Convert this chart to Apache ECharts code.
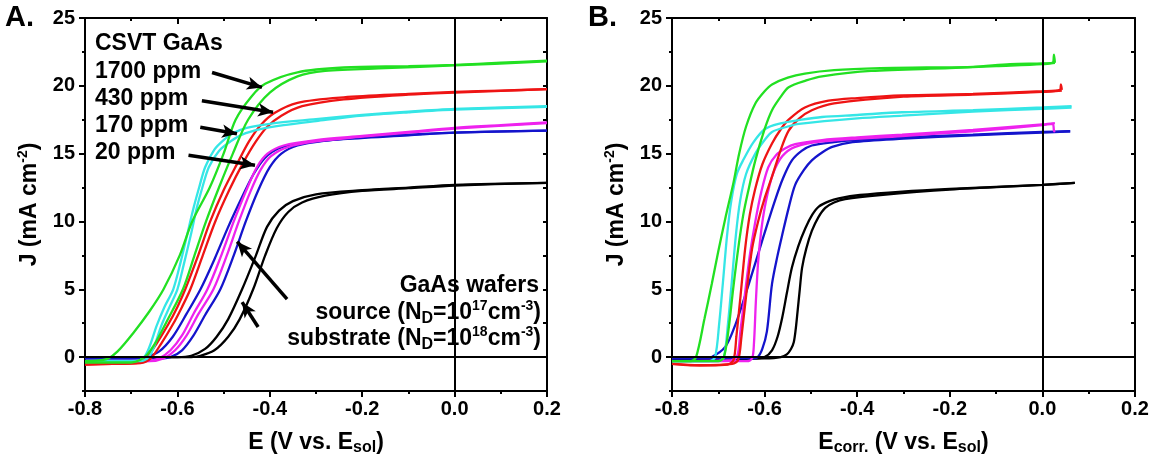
<!DOCTYPE html>
<html><head><meta charset="utf-8">
<script src="https://cdn.jsdelivr.net/npm/echarts@6/dist/echarts.min.js"></script>
<style>html,body{margin:0;padding:0;background:#fff}#c{width:1156px;height:461px}</style>
</head><body><div id="c"></div>
<script>
// ---- Panel A (left): J vs E ----
const LG1 = [[-0.8,-0.3],[-0.77,-0.25],[-0.75,-0.1],[-0.73,0.4],[-0.695,1.8],[-0.66,3.4],[-0.63,5.0],[-0.595,7.5],[-0.568,10],[-0.53,12.5],[-0.50,15],[-0.474,17.5],[-0.44,19.2],[-0.41,20.15],[-0.34,21.0],[-0.24,21.35],[-0.1,21.45],[0,21.55],[0.1,21.7],[0.2,21.85]];
const LG2 = [[-0.8,-0.4],[-0.70,-0.4],[-0.68,-0.2],[-0.665,0.2],[-0.645,1.2],[-0.625,2.5],[-0.588,5],[-0.563,7.5],[-0.538,10],[-0.51,12.5],[-0.48,15],[-0.447,17.5],[-0.40,19.5],[-0.34,20.7],[-0.28,21.1],[-0.15,21.3],[0,21.5],[0.2,21.8]];
const LC1 = [[-0.8,-0.3],[-0.69,-0.3],[-0.672,0],[-0.66,0.8],[-0.645,2.3],[-0.628,3.7],[-0.609,5],[-0.593,7],[-0.579,9],[-0.565,11],[-0.553,12.5],[-0.54,14.0],[-0.52,15.3],[-0.50,16.0],[-0.48,16.5],[-0.45,16.9],[-0.40,17.2],[-0.30,17.55],[-0.2,17.85],[-0.1,18.1],[0,18.3],[0.2,18.5]];
const LC2 = [[-0.8,-0.3],[-0.68,-0.3],[-0.662,0],[-0.65,0.8],[-0.635,2.3],[-0.617,3.7],[-0.6,5],[-0.585,7],[-0.571,9],[-0.558,11],[-0.546,12.5],[-0.532,14.0],[-0.51,15.2],[-0.485,15.9],[-0.46,16.4],[-0.42,16.8],[-0.37,17.1],[-0.30,17.4],[-0.2,17.8],[-0.1,18.05],[0,18.25],[0.2,18.45]];
const LR1 = [[-0.8,-0.55],[-0.74,-0.5],[-0.69,-0.45],[-0.668,-0.1],[-0.645,1.0],[-0.62,2.4],[-0.6,3.7],[-0.583,5],[-0.555,7.5],[-0.529,10],[-0.5,12.3],[-0.47,14.3],[-0.445,15.9],[-0.42,17.1],[-0.39,18.0],[-0.34,18.75],[-0.24,19.15],[-0.1,19.4],[0,19.55],[0.1,19.65],[0.2,19.75]];
const LR2 = [[-0.8,-0.55],[-0.74,-0.5],[-0.68,-0.45],[-0.658,-0.1],[-0.635,1.0],[-0.61,2.4],[-0.59,3.7],[-0.572,5],[-0.545,7.5],[-0.518,10],[-0.488,12.3],[-0.458,14.3],[-0.43,15.9],[-0.405,17.0],[-0.375,17.8],[-0.33,18.5],[-0.24,19.0],[-0.1,19.35],[0,19.5],[0.2,19.75]];
const LM1 = [[-0.8,-0.3],[-0.67,-0.3],[-0.64,-0.1],[-0.615,0.5],[-0.59,1.6],[-0.565,3.2],[-0.535,5],[-0.505,7.5],[-0.478,10],[-0.452,12.2],[-0.428,14],[-0.405,15],[-0.37,15.6],[-0.30,16.0],[-0.2,16.3],[-0.1,16.6],[0,16.9],[0.1,17.1],[0.2,17.3]];
const LM2 = [[-0.8,-0.3],[-0.66,-0.3],[-0.63,-0.1],[-0.605,0.5],[-0.58,1.6],[-0.554,3.2],[-0.522,5],[-0.493,7.5],[-0.467,10],[-0.442,12.2],[-0.42,13.8],[-0.398,14.8],[-0.36,15.5],[-0.30,15.9],[-0.2,16.25],[-0.1,16.55],[0,16.85],[0.2,17.25]];
const LB1 = [[-0.8,-0.1],[-0.70,-0.1],[-0.67,0],[-0.64,0.4],[-0.61,1.5],[-0.58,3.2],[-0.55,5],[-0.52,7.2],[-0.49,9.6],[-0.46,11.8],[-0.435,13.5],[-0.41,14.7],[-0.38,15.4],[-0.33,15.8],[-0.25,16.05],[-0.1,16.35],[0,16.55],[0.2,16.7]];
const LB2 = [[-0.8,-0.1],[-0.64,-0.1],[-0.615,0],[-0.59,0.5],[-0.565,1.6],[-0.54,3.1],[-0.507,5],[-0.478,7.5],[-0.452,10],[-0.425,12.3],[-0.40,14.0],[-0.375,15.0],[-0.34,15.6],[-0.28,15.95],[-0.2,16.2],[-0.1,16.4],[0,16.55],[0.2,16.7]];
const LK1 = [[-0.8,0],[-0.6,0],[-0.57,0.1],[-0.54,0.6],[-0.515,1.5],[-0.49,2.8],[-0.46,5],[-0.43,7.5],[-0.406,9.6],[-0.38,10.8],[-0.35,11.5],[-0.30,12.0],[-0.2,12.3],[-0.1,12.5],[0,12.7],[0.2,12.85]];
const LK2 = [[-0.8,0],[-0.57,0],[-0.55,0.1],[-0.52,0.5],[-0.49,1.5],[-0.465,2.8],[-0.436,5],[-0.41,7.5],[-0.385,9.5],[-0.36,10.7],[-0.33,11.4],[-0.28,11.9],[-0.2,12.25],[-0.1,12.45],[0,12.65],[0.2,12.85]];

// ---- Panel B (right): J vs E_corr ----
const RG1 = [[-0.8,-0.3],[-0.76,-0.3],[-0.748,0],[-0.73,2.8],[-0.714,5.4],[-0.70,7.8],[-0.685,10.2],[-0.667,12.9],[-0.655,15.0],[-0.64,17.0],[-0.62,18.7],[-0.60,19.6],[-0.584,20.1],[-0.55,20.6],[-0.513,20.9],[-0.45,21.15],[-0.35,21.3],[-0.25,21.35],[-0.15,21.4],[-0.07,21.6],[0,21.65],[0.022,21.7],[0.025,22.3],[0.027,21.7]];
const RG2 = [[-0.8,-0.3],[-0.70,-0.3],[-0.688,0],[-0.678,2],[-0.668,5],[-0.657,8],[-0.646,10.5],[-0.635,12.3],[-0.62,14.5],[-0.60,16.8],[-0.584,18.2],[-0.565,19.2],[-0.548,19.9],[-0.51,20.4],[-0.476,20.7],[-0.37,21.1],[-0.2,21.3],[-0.1,21.45],[0,21.6],[0.027,21.7]];
const RC1 = [[-0.8,-0.3],[-0.72,-0.3],[-0.707,0],[-0.698,2.5],[-0.69,5.5],[-0.681,9],[-0.672,11.5],[-0.66,13.5],[-0.645,14.6],[-0.625,15.8],[-0.6,16.8],[-0.57,17.2],[-0.52,17.5],[-0.476,17.7],[-0.4,17.85],[-0.303,18.05],[-0.15,18.2],[0,18.4],[0.063,18.5]];
const RC2 = [[-0.8,-0.3],[-0.70,-0.3],[-0.688,0],[-0.679,2.5],[-0.671,5.5],[-0.662,9],[-0.653,11.5],[-0.64,13.5],[-0.62,15.0],[-0.6,16.0],[-0.584,16.6],[-0.55,17.0],[-0.526,17.2],[-0.4,17.6],[-0.303,17.8],[-0.15,18.1],[0,18.3],[0.063,18.4]];
const RR1 = [[-0.8,-0.5],[-0.76,-0.6],[-0.72,-0.6],[-0.68,-0.55],[-0.667,-0.2],[-0.661,1.5],[-0.652,4.5],[-0.642,8],[-0.632,10.5],[-0.621,12.3],[-0.605,14.2],[-0.584,15.75],[-0.565,16.8],[-0.548,17.5],[-0.513,18.4],[-0.462,18.9],[-0.4,19.1],[-0.303,19.3],[-0.15,19.4],[0,19.6],[0.038,19.7],[0.04,20.1],[0.042,19.7]];
const RR2 = [[-0.8,-0.5],[-0.74,-0.6],[-0.67,-0.5],[-0.657,-0.2],[-0.65,1.5],[-0.64,4.5],[-0.627,8],[-0.614,10],[-0.6,11.7],[-0.584,13.3],[-0.565,15.3],[-0.548,16.7],[-0.525,17.6],[-0.498,18.2],[-0.45,18.7],[-0.3,19.2],[-0.15,19.35],[0,19.55],[0.042,19.65]];
const RM1 = [[-0.8,-0.3],[-0.68,-0.25],[-0.66,0],[-0.652,2.0],[-0.643,4.5],[-0.632,7.5],[-0.62,10],[-0.607,12.2],[-0.592,14],[-0.575,14.9],[-0.555,15.4],[-0.534,15.7],[-0.476,16.0],[-0.4,16.2],[-0.303,16.4],[-0.15,16.75],[0,17.15],[0.027,17.25]];
const RM2 = [[-0.8,-0.3],[-0.638,-0.3],[-0.627,-0.1],[-0.623,1],[-0.619,4],[-0.614,7],[-0.607,9.4],[-0.597,11.5],[-0.582,13.5],[-0.562,14.8],[-0.534,15.5],[-0.476,15.9],[-0.303,16.3],[-0.15,16.65],[0,17.1],[0.022,17.2],[0.025,16.7],[0.027,16.6]];
const RB1 = [[-0.8,-0.1],[-0.73,-0.1],[-0.714,0],[-0.685,0.75],[-0.663,2.4],[-0.634,5.4],[-0.606,8.5],[-0.578,11.5],[-0.56,13.2],[-0.541,14.5],[-0.52,15.2],[-0.498,15.6],[-0.45,15.85],[-0.405,16.0],[-0.303,16.2],[-0.15,16.4],[0,16.6],[0.06,16.65]];
const RB2 = [[-0.8,-0.1],[-0.63,-0.1],[-0.615,0],[-0.605,0.6],[-0.595,1.9],[-0.584,5.4],[-0.572,7.5],[-0.562,9.0],[-0.548,11],[-0.534,12.7],[-0.515,13.8],[-0.498,14.5],[-0.475,15.1],[-0.454,15.5],[-0.41,15.85],[-0.3,16.1],[-0.15,16.35],[0,16.55],[0.06,16.65]];
const RK1 = [[-0.8,-0.2],[-0.70,-0.2],[-0.62,-0.1],[-0.6,0],[-0.584,0.5],[-0.572,1.5],[-0.562,2.9],[-0.552,4.7],[-0.541,6.6],[-0.527,8.2],[-0.512,9.5],[-0.497,10.5],[-0.483,11.1],[-0.46,11.5],[-0.44,11.7],[-0.394,11.95],[-0.303,12.2],[-0.2,12.4],[-0.1,12.55],[0,12.7],[0.07,12.85]];
const RK2 = [[-0.8,-0.2],[-0.60,-0.1],[-0.565,0],[-0.552,0.2],[-0.543,0.6],[-0.537,1.1],[-0.533,2.0],[-0.529,3.3],[-0.524,5],[-0.519,6.6],[-0.51,8],[-0.498,9.3],[-0.484,10.3],[-0.469,11.0],[-0.45,11.4],[-0.426,11.65],[-0.35,11.95],[-0.2,12.35],[0,12.7],[0.07,12.85]];

// axis ticks / labels
const X_MIN = -0.8, X_MAX = 0.2, X_STEP = 0.2;
const Y_MIN = -2.5, Y_MAX = 25, Y_MINOR = 2.5;
const Y_LABELS = [0, 5, 10, 15, 20, 25];

// annotation arrows (panel A, data coordinates: [tail, head])
const ARROWS_A = [
  [[-0.525, 20.98], [-0.417, 19.88]],
  [[-0.547, 18.9], [-0.393, 18.05]],
  [[-0.5505, 16.95], [-0.471, 16.47]],
  [[-0.576, 14.88], [-0.432, 14.15]],
  [[-0.3626, 4.27], [-0.4706, 8.51]],
  [[-0.4253, 2.22], [-0.46, 4.05]]
];

const COLORS = { g: '#22e022', c: '#35e6e6', r: '#ee1414', m: '#ee22ee', b: '#1414cc', k: '#000000' };
const FONT = 'Liberation Sans';

const chart = echarts.init(document.getElementById('c'), null, { renderer: 'canvas' });

const grids = [
  { left: 85, top: 18, width: 462, height: 375 },
  { left: 672, top: 18, width: 463, height: 375 }
];

const lineBlack = { color: '#000', width: 2 };
const richBase = (size) => ({
  b: { fontFamily: FONT, fontWeight: 'bold', fontSize: size, color: '#000', lineHeight: size + 4 },
  sub: { fontFamily: FONT, fontWeight: 'bold', fontSize: Math.round(size * 0.68), color: '#000', verticalAlign: 'bottom', lineHeight: Math.round(size * 0.6) },
  sup: { fontFamily: FONT, fontWeight: 'bold', fontSize: Math.round(size * 0.62), color: '#000', verticalAlign: 'top', lineHeight: Math.round(size * 0.62) }
});

function xAxesFor(gi, name) {
  return [
    {
      type: 'value', gridIndex: gi, position: 'bottom', min: X_MIN, max: X_MAX, interval: X_STEP,
      axisLine: { show: true, onZero: false, lineStyle: lineBlack },
      axisTick: { show: true, inside: false, length: 6, lineStyle: lineBlack },
      minorTick: { show: true, splitNumber: 2, length: 3, lineStyle: lineBlack },
      splitLine: { show: false }, minorSplitLine: { show: false },
      axisLabel: {
        formatter: v => (Math.abs(v) < 1e-9 ? '0.0' : v.toFixed(1)),
        fontFamily: FONT, fontWeight: 'bold', fontSize: 20, color: '#000', margin: 8
      },
      name: name, nameLocation: 'middle', nameGap: 38,
      nameTextStyle: { rich: richBase(23) }
    },
    {
      type: 'value', gridIndex: gi, position: 'top', min: X_MIN, max: X_MAX, interval: X_STEP,
      axisLine: { show: true, onZero: false, lineStyle: lineBlack },
      axisTick: { show: true, inside: true, length: 6, lineStyle: lineBlack },
      minorTick: { show: true, splitNumber: 2, length: 3, lineStyle: lineBlack },
      splitLine: { show: false }, axisLabel: { show: false }
    }
  ];
}
function yAxesFor(gi) {
  return [
    {
      type: 'value', gridIndex: gi, position: 'left', min: Y_MIN, max: Y_MAX,
      axisLine: { show: true, onZero: false, lineStyle: lineBlack },
      axisTick: { show: true, inside: false, length: 6, lineStyle: lineBlack, customValues: Y_LABELS },
      splitLine: { show: false },
      axisLabel: { customValues: Y_LABELS, fontFamily: FONT, fontWeight: 'bold', fontSize: 20, color: '#000', margin: 10 },
      name: '{b|J (mA cm}{sup|-2}{b|)}', nameLocation: 'middle', nameGap: 42,
      nameTextStyle: { rich: richBase(23) }
    },
    {
      type: 'value', gridIndex: gi, position: 'left', min: Y_MIN, max: Y_MAX, interval: Y_MINOR,
      axisLine: { show: false, onZero: false },
      axisTick: { show: true, inside: false, length: 3, lineStyle: lineBlack },
      splitLine: { show: false }, axisLabel: { show: false }
    },
    {
      type: 'value', gridIndex: gi, position: 'right', min: Y_MIN, max: Y_MAX, interval: Y_MINOR,
      axisLine: { show: true, onZero: false, lineStyle: lineBlack },
      axisTick: { show: true, inside: true, length: 4, lineStyle: lineBlack },
      splitLine: { show: false }, axisLabel: { show: false }
    }
  ];
}

const xAxis = [...xAxesFor(0, '{b|E (V vs. E}{sub|sol}{b|)}'), ...xAxesFor(1, '{b|E}{sub|corr.}{b| (V vs. E}{sub|sol}{b|)}')];
const yAxis = [...yAxesFor(0), ...yAxesFor(1)];

function curve(data, color, xi, yi) {
  return {
    type: 'line', data: data, xAxisIndex: xi, yAxisIndex: yi,
    showSymbol: false, smooth: 0.3, silent: true,
    lineStyle: { color: color, width: 2.3 }, z: 3
  };
}
const leftCurves = [
  [LK1, 'k'], [LK2, 'k'], [LB1, 'b'], [LB2, 'b'], [LM1, 'm'], [LM2, 'm'],
  [LR1, 'r'], [LR2, 'r'], [LC1, 'c'], [LC2, 'c'], [LG1, 'g'], [LG2, 'g']
];
const rightCurves = [
  [RK1, 'k'], [RK2, 'k'], [RB1, 'b'], [RB2, 'b'], [RM1, 'm'], [RM2, 'm'],
  [RR1, 'r'], [RR2, 'r'], [RC1, 'c'], [RC2, 'c'], [RG1, 'g'], [RG2, 'g']
];
const series = [];
function refLines(xi, yi) {
  return {
    type: 'line', data: [], xAxisIndex: xi, yAxisIndex: yi, silent: true,
    markLine: {
      silent: true, symbol: 'none', animation: false, label: { show: false },
      lineStyle: { color: '#000', width: 2, type: 'solid' },
      data: [{ xAxis: 0 }, { yAxis: 0 }]
    }, z: 2
  };
}
series.push(refLines(0, 0));
series.push(refLines(2, 3));
leftCurves.forEach(([d, c]) => series.push(curve(d, COLORS[c], 0, 0)));
rightCurves.forEach(([d, c]) => series.push(curve(d, COLORS[c], 2, 3)));
series.push({
  type: 'line', data: [], xAxisIndex: 0, yAxisIndex: 0, silent: true, z: 5,
  markLine: {
    silent: true, animation: false, symbol: ['none', 'arrow'], symbolSize: [10, 15],
    label: { show: false },
    lineStyle: { color: '#000', width: 3.5, type: 'solid' },
    data: ARROWS_A.map(([a, b]) => [{ coord: a }, { coord: b }])
  }
});

function txt(x, y, text, size, align) {
  return {
    type: 'text', x: x, y: y, silent: true, z: 10,
    style: { text: text, rich: richBase(size), align: align || 'left', verticalAlign: 'middle', fontFamily: FONT, fontWeight: 'bold', fontSize: size, fill: '#000' }
  };
}
const graphic = [
  txt(5, 18, '{b|A.}', 29),
  txt(588, 18, '{b|B.}', 29),
  txt(95, 44, '{b|CSVT GaAs}', 23),
  txt(95, 72, '{b|1700 ppm}', 23),
  txt(95, 99, '{b|430 ppm}', 23),
  txt(95, 126, '{b|170 ppm}', 23),
  txt(95, 153, '{b|20 ppm}', 23),
  txt(539, 286, '{b|GaAs wafers}', 23, 'right'),
  txt(541, 313, '{b|source (N}{sub|D}{b|=10}{sup|17}{b|cm}{sup|-3}{b|)}', 23, 'right'),
  txt(541, 339, '{b|substrate (N}{sub|D}{b|=10}{sup|18}{b|cm}{sup|-3}{b|)}', 23, 'right')
];

chart.setOption({
  animation: false,
  backgroundColor: '#fff',
  grid: grids,
  xAxis: xAxis,
  yAxis: yAxis,
  series: series,
  graphic: graphic
});
</script></body></html>
